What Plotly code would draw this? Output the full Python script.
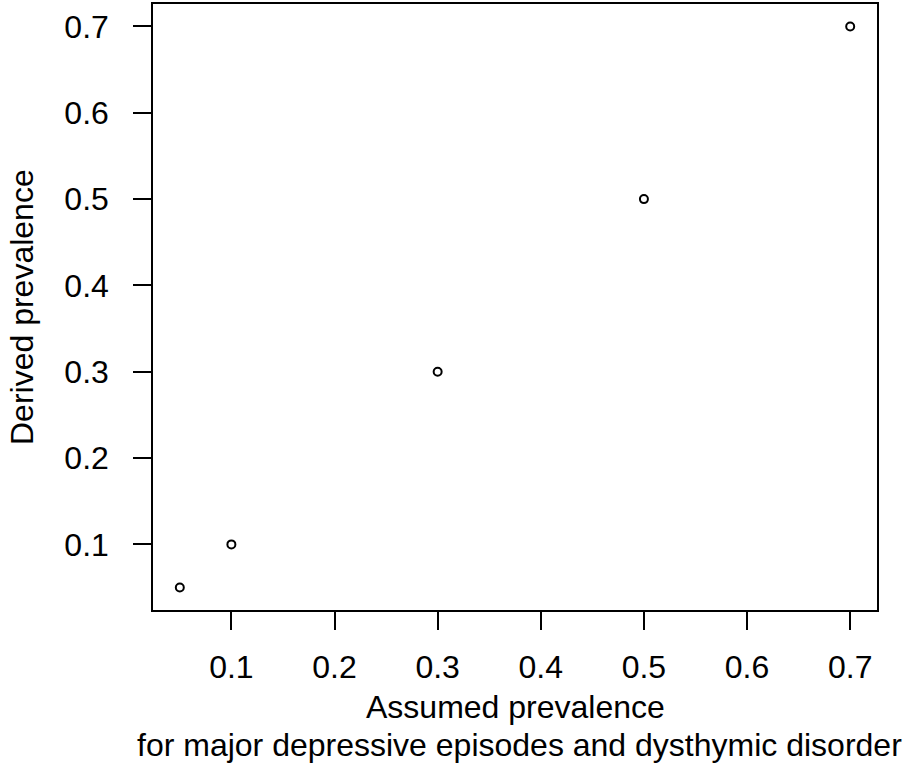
import plotly.graph_objects as go

assumed = [0.05, 0.1, 0.3, 0.5, 0.7]
derived = [0.05, 0.1, 0.3, 0.5, 0.7]
tick_vals = [0.1, 0.2, 0.3, 0.4, 0.5, 0.6, 0.7]
tick_text = ["0.1", "0.2", "0.3", "0.4", "0.5", "0.6", "0.7"]

FONT = "Liberation Sans, Arial, sans-serif"
FS = 32

fig = go.Figure()
fig.add_trace(go.Scatter(
    x=assumed, y=derived, mode="markers",
    marker=dict(symbol="circle-open", size=8, color="black", line=dict(width=2, color="black")),
    showlegend=False,
))

axis_common = dict(
    showgrid=False, zeroline=False, showline=True, mirror=True,
    linecolor="black", linewidth=1.5, ticks="outside", ticklen=18,
    tickwidth=1.5, tickcolor="black",
    tickfont=dict(family=FONT, size=FS, color="black"),
    tickvals=tick_vals, ticktext=tick_text,
    range=[0.024, 0.726],
)

fig.update_layout(
    width=905, height=764,
    margin=dict(l=153, r=28, t=2, b=154),
    paper_bgcolor="white", plot_bgcolor="white",
    xaxis=dict(**axis_common, ticklabelstandoff=10),
    yaxis=dict(**axis_common, ticklabelstandoff=18),
    font=dict(family=FONT, color="black"),
    annotations=[
        dict(text="Assumed prevalence", xref="paper", yref="paper", x=0.5, y=0,
             yshift=-97, showarrow=False, xanchor="center", yanchor="middle",
             font=dict(family=FONT, size=FS, color="black")),
        dict(text="for major depressive episodes and dysthymic disorder", xref="paper", yref="paper",
             x=0.5, y=0, yshift=-135, xshift=4, showarrow=False, xanchor="center", yanchor="middle",
             font=dict(family=FONT, size=FS, color="black")),
        dict(text="Derived prevalence", xref="paper", yref="paper", x=0, y=0.5,
             xshift=-131, showarrow=False, xanchor="center", yanchor="middle", textangle=-90,
             font=dict(family=FONT, size=FS, color="black")),
    ],
)

fig.write_html("out.html")
